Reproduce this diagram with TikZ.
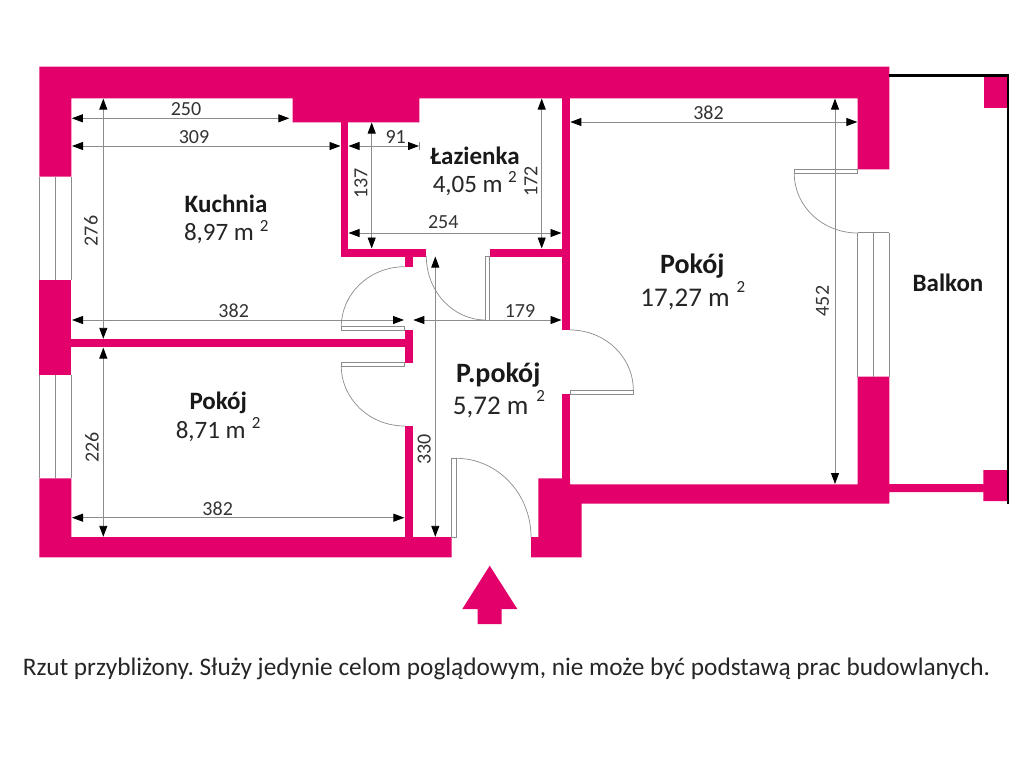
\documentclass[tikz,border=0pt]{standalone}
\usepackage{fontspec}
\setmainfont{Carlito}
\usetikzlibrary{arrows.meta}
\definecolor{wallpink}{HTML}{E4006B}
\definecolor{dimgrey}{HTML}{8C8C8C}
\frenchspacing
\tikzset{
wall/.style={fill=wallpink, draw=none},
leaf/.style={draw=dimgrey, line width=0.7pt},
dimline/.style={draw=dimgrey, line width=0.9pt, {Triangle[length=11pt,width=8pt,black]}-{Triangle[length=11pt,width=8pt,black]}},
dimtext/.style={font=\fontsize{20}{22}\selectfont, text=black!80, inner sep=0pt, yshift=-1pt},
roomname/.style={font=\fontsize{25}{27}\bfseries\selectfont, text=black!90, inner sep=0pt, yshift=-1pt},
roomarea/.style={font=\fontsize{25}{27}\selectfont, text=black!85, inner sep=0pt, yshift=-1pt},
roomnamebig/.style={font=\fontsize{28}{30}\bfseries\selectfont, text=black!90, inner sep=0pt, yshift=-1pt},
roomareabig/.style={font=\fontsize{27}{29}\selectfont, text=black!85, inner sep=0pt, yshift=-1pt},
roomsup/.style={font=\fontsize{17}{19}\selectfont, text=black!85, inner sep=0pt}
}
\begin{document}
\begin{tikzpicture}[x=1pt,y=-1pt]
\useasboundingbox (0,0) rectangle (1024,768);
\fill[white] (0,0) rectangle (1024,768);
\fill[wall] (39.3,66.7) -- (889.3,66.7) -- (889.3,169.3) -- (857.7,169.3) -- (857.7,98.3) -- (419.3,98.3) -- (419.3,122.3) -- (292.7,122.3) -- (292.7,98.3) -- (71.3,98.3) -- (71.3,176.7) -- (39.3,176.7) -- cycle;
\fill[wall] (340.7,122) rectangle (348.3,256.7);
\fill[wall] (340.7,248.7) rectangle (426.3,256.7);
\fill[wall] (404.7,256) rectangle (412.7,266.7);
\fill[wall] (489.7,248.5) rectangle (570,256.5);
\fill[wall] (562,98) rectangle (570,330);
\fill[wall] (562,394) rectangle (570,480);
\fill[wall] (39.3,280) rectangle (71.3,375);
\fill[wall] (71,339) rectangle (404.7,347.3);
\fill[wall] (404.7,330) rectangle (412.7,362.7);
\fill[wall] (404.7,426) rectangle (412.7,537.5);
\fill[wall] (39.3,478.3) -- (71.3,478.3) -- (71.3,537) -- (451.7,537) -- (451.7,557.3) -- (39.3,557.3) -- cycle;
\fill[wall] (531,537) -- (538.3,537) -- (538.3,478.3) -- (570,478.3) -- (570,484.3) -- (857.7,484.3) -- (857.7,376.7) -- (889.3,376.7) -- (889.3,484) -- (983.3,484) -- (983.3,470) -- (1007,470) -- (1007,501) -- (983.3,501) -- (983.3,492) -- (889.3,492) -- (889.3,503.7) -- (581.7,503.7) -- (581.7,557.3) -- (531,557.3) -- cycle;
\fill[wall] (984,76) rectangle (1006.7,107.7);
\fill[wall] (489.7,565.7) -- (517.3,609) -- (501.7,609) -- (501.7,624) -- (477.7,624) -- (477.7,609) -- (462.3,609) -- cycle;
\draw[black, line width=2.4pt] (889.3,75.3) -- (1008,75.3) -- (1008,503.5);
\draw[leaf] (39.3,176.7) -- (39.3,280);
\draw[leaf] (55.7,176.7) -- (55.7,280);
\draw[leaf] (71.3,176.7) -- (71.3,280);
\draw[leaf] (39.3,375) -- (39.3,478.3);
\draw[leaf] (55.7,375) -- (55.7,478.3);
\draw[leaf] (71.3,375) -- (71.3,478.3);
\draw[leaf] (857.7,232.7) -- (889.3,232.7);
\draw[leaf] (857.7,232.7) -- (857.7,376.7);
\draw[leaf] (873.3,232.7) -- (873.3,376.7);
\draw[leaf] (889.3,232.7) -- (889.3,376.7);
\draw[leaf] (341.3,326.7) rectangle (404.7,330);
\draw[leaf] (341.3,326.7) .. controls (341.3,293.6) and (369.7,266.7) .. (404.7,266.7);
\draw[leaf] (341.3,362.7) rectangle (404.7,366);
\draw[leaf] (341.3,366) .. controls (341.3,399.1) and (369.7,426) .. (404.7,426);
\draw[leaf] (485.7,256.5) rectangle (489.7,320);
\draw[leaf] (426.3,256) .. controls (426.3,291.3) and (452.9,320) .. (485.7,320);
\draw[leaf] (570,390) rectangle (633.3,394);
\draw[leaf] (570,330) .. controls (605,330) and (633.3,356.9) .. (633.3,390);
\draw[leaf] (451.7,458.3) rectangle (456,537);
\draw[leaf] (456,458.3) .. controls (497.4,458.3) and (531,493.6) .. (531,537);
\draw[leaf] (794.3,169.3) rectangle (857.7,173.7);
\draw[leaf] (794.3,173.7) .. controls (794.3,206.4) and (822.7,233) .. (857.7,233);
\draw[dimline] (71.8,118.3) -- (289.3,118.3);
\draw[dimline] (72,146) -- (340.5,146);
\draw[dimline] (103.3,98.6) -- (103.3,338.8);
\draw[dimline] (348.5,146) -- (419,146);
\draw[leaf] (419.3,142) -- (419.3,150);
\draw[dimline] (371.7,122.5) -- (371.7,248.5);
\draw[dimline] (348.5,233) -- (561.5,233);
\draw[dimline] (541.7,98.6) -- (541.7,248.5);
\draw[dimline] (72,320) -- (404,320);
\draw[dimline] (413.3,320) -- (561.5,320);
\draw[dimline] (435.3,256.5) -- (435.3,536.8);
\draw[dimline] (103.3,347.6) -- (103.3,536.8);
\draw[dimline] (72,517.7) -- (404.4,517.7);
\draw[dimline] (570.3,122) -- (857.4,122);
\draw[dimline] (835,98.6) -- (835,484);
\node[dimtext] (dimA) at (186,108){250};
\node[dimtext] (dimB) at (194,136){309};
\node[dimtext, rotate=90] (dimC) at (91,230){276};
\node[dimtext] (dimD) at (395.7,136){91};
\node[dimtext, rotate=90] (dimE) at (361,182.7){137};
\node[dimtext] (dimF) at (443.3,221){254};
\node[dimtext, rotate=90] (dimG) at (531,180.7){172};
\node[dimtext] (dimH) at (233.7,310){382};
\node[dimtext] (dimI) at (520,310){179};
\node[dimtext, rotate=90] (dimJ) at (424.3,448.3){330};
\node[dimtext, rotate=90] (dimK) at (92,446.7){226};
\node[dimtext] (dimL) at (217.7,507.7){382};
\node[dimtext] (dimM) at (708.5,112){382};
\node[dimtext, rotate=90] (dimN) at (822.5,300){452};
\node[roomname] (kuchnia) at (226,203){Kuchnia};
\node[roomarea] (kuchniaA) at (219,233){8,97 m};
\node[roomsup] (kuchniaB) at (264.3,226){2};
\node[roomname] (lazienka) at (475,155){Łazienka};
\node[roomarea] (lazienkaA) at (467.7,185){4,05 m};
\node[roomsup] (lazienkaB) at (512.3,177){2};
\node[roomnamebig] (pokojL) at (692.3,265.5){Pokój};
\node[roomareabig] (pokojLA) at (685,298){17,27 m};
\node[roomsup] (pokojLB) at (741,287){2};
\node[roomname] (pokojS) at (218.3,401.7){Pokój};
\node[roomarea] (pokojSA) at (210.7,431){8,71 m};
\node[roomsup] (pokojSB) at (256.3,422.7){2};
\node[roomnamebig] (przedpokoj) at (498.3,374.5){P.pokój};
\node[roomareabig] (przedpokojA) at (490.7,406.5){5,72 m};
\node[roomsup] (przedpokojB) at (540.7,396){2};
\node[roomname] (balkon) at (948,282){Balkon};
\node[font=\fontsize{25.3}{27}\selectfont, text=black!85, inner sep=0pt] (uwaga) at (506.5,669){Rzut przybliżony. Służy jedynie celom poglądowym, nie może być podstawą prac budowlanych.};
\end{tikzpicture}
\end{document}
